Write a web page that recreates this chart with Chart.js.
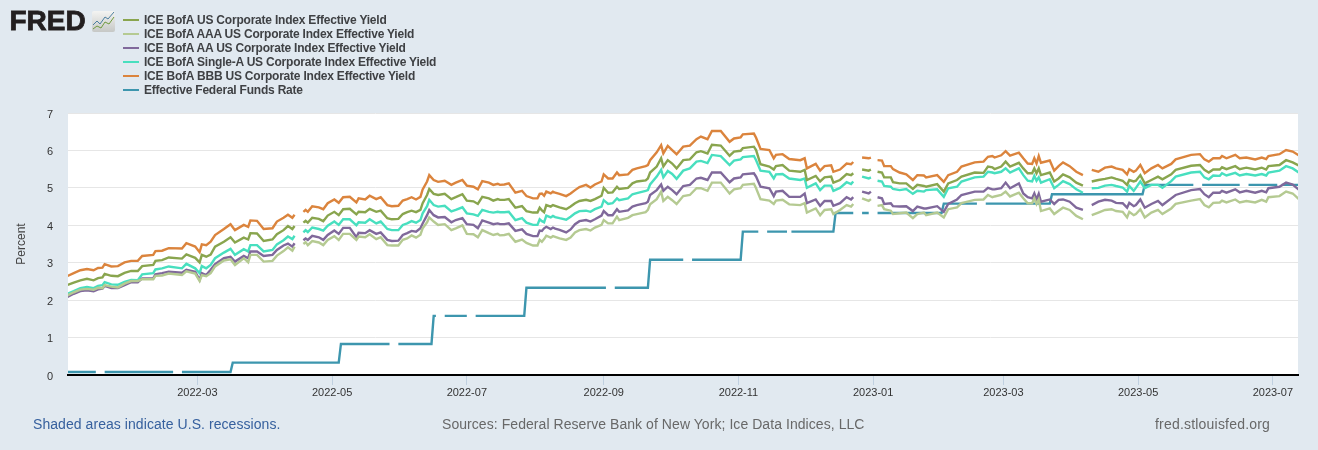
<!DOCTYPE html>
<html>
<head>
<meta charset="utf-8">
<title>FRED corporate yields</title>
<script src="https://cdn.jsdelivr.net/npm/chart.js@4/dist/chart.umd.js"></script>
<style>
html, body { margin: 0; padding: 0; background: #E1E9F0; }
body { width: 1318px; height: 450px; position: relative; overflow: hidden; font-family: "Liberation Sans", Arial, sans-serif; }
#graphique { position: absolute; left: 0; top: 0; }
#logo { position: absolute; left: 9.5px; top: 5px; font-size: 28px; line-height: 32px; font-weight: bold; color: #231F20; -webkit-text-stroke: 0.8px #231F20; }
#icone { position: absolute; left: 92px; top: 11px; }
#legende { position: absolute; left: 123px; top: 13px; }
.entree { position: absolute; left: 0; height: 14px; line-height: 14px; font-size: 12px; font-weight: bold; letter-spacing: -0.21px; color: #3F4144; padding-left: 21px; white-space: nowrap; }
.trait { position: absolute; left: 0; top: 6px; width: 16px; height: 2px; }
.pied { position: absolute; top: 416px; font-size: 14px; line-height: 17px; color: #686868; letter-spacing: 0.06px; white-space: nowrap; }
</style>
</head>
<body>
<canvas id="graphique" width="1318" height="450"></canvas>
<div id="logo">FRED</div>
<svg id="icone" width="23" height="21" viewBox="0 0 23 21">
    <defs>
        <linearGradient id="fond" x1="0" y1="0" x2="0" y2="1">
            <stop offset="0" stop-color="#F4F4F2"/>
            <stop offset="1" stop-color="#C6C8C6"/>
        </linearGradient>
    </defs>
    <rect width="23" height="21" rx="2" fill="url(#fond)"/>
    <polyline points="1,14 5,10 8,13 13,6 16,8 22,1" fill="none" stroke="#4C7FA0" stroke-width="1"/>
    <polyline points="1,18 5,15 9,17 13,11 17,13 22,6" fill="none" stroke="#6F9A3E" stroke-width="1"/>
</svg>
<div id="legende"></div>
<div class="pied" style="left:33px;color:#36609E">Shaded areas indicate U.S. recessions.</div>
<div class="pied" style="left:442px">Sources: Federal Reserve Bank of New York; Ice Data Indices, LLC</div>
<div class="pied" style="left:1155px;letter-spacing:0.2px">fred.stlouisfed.org</div>
<script>
// jours depuis le 2022-01-01
const days = [
    0,3,6,9,12,14,16,17,20,23,26,29,32,34,39,40,43,46,52,54,58,60,61,63,65,67,71,74,76,80,82,83,86,89,93,95,98,100,102,103,
    105,
    107,108,109,111,114,116,118,121,123,125,128,131,132,135,137,140,142,145,147,150,152,154,156,158,160,161,163,164,166,168,171,174,176,179,181,184,186,188,191,193,195,196,198,200,203,206,208,211,213,214,
    215,216,217,219,220,221,223,226,228,230,232,235,237,239,242,243,245,247,249,250,254,256,258,262,263,264,267,269,270,272,274,276,279,282,285,287,290,292,296,300,302,305,306,311,312,314,318,
    320,321,324,327,332,334,335,339,341,343,346,347,350,353,355,356,358,360,363,364,365,367,369,370,373,374,377,380,383,385,388,389,394,397,399,403,405,411,415,417,419,420,423,425,427,431,433,435,
    437,438,439,440,441,445,447,449,451,454,457,460,462,464,467,470,473,475,478,480,481,483,484,486,488,491,494,496,500,502,509,513,515,517,519,522,523,525,529,531,534,538,541,543,544,549,552,555,558
]

const corporate = [
    2.40,2.47,2.53,2.57,2.53,2.59,2.61,2.70,2.65,2.64,2.73,2.78,2.78,2.91,2.94,3.05,3.07,3.14,3.11,3.22,3.13,3.01,3.21,3.16,3.22,3.43,3.56,3.68,3.54,3.67,3.62,3.79,3.78,3.58,3.62,3.76,3.87,3.98,3.90,3.98,
    null,
    4.07,4.12,4.07,4.20,4.17,4.11,4.26,4.36,4.27,4.43,4.44,4.29,4.36,4.35,4.44,4.36,4.39,4.19,4.16,4.17,4.30,4.35,4.39,4.35,4.41,4.59,4.81,4.97,4.84,4.81,4.84,4.70,4.75,4.83,4.66,4.64,4.57,4.76,4.72,4.66,4.70,4.68,4.68,4.70,4.47,4.51,4.38,4.34,4.34,4.47,
    4.40,4.35,4.54,4.50,4.54,4.52,4.48,4.43,4.50,4.59,4.65,4.68,4.65,4.70,4.79,5.00,4.87,4.88,5.03,4.97,5.00,5.12,5.17,5.20,5.25,5.41,5.57,5.79,5.57,5.74,5.65,5.52,5.74,5.76,5.95,5.98,5.92,6.15,6.13,5.86,5.97,5.99,6.06,6.10,6.01,5.63,5.57,
    5.49,5.58,5.61,5.46,5.43,5.48,5.21,5.32,5.17,5.28,5.30,5.14,5.21,5.37,5.34,5.39,null,5.49,5.46,5.49,null,5.43,5.41,5.28,5.28,5.15,5.12,5.12,4.97,5.08,5.05,5.03,5.10,4.90,5.12,5.21,5.30,5.41,5.40,5.57,5.55,5.50,5.57,5.70,5.57,5.67,5.52,5.39,
    5.39,5.52,5.39,5.52,5.34,5.41,5.17,5.25,5.36,5.28,5.14,5.06,null,5.17,5.21,5.24,5.28,5.24,5.19,5.08,5.21,5.17,5.19,5.34,5.12,5.21,5.30,5.23,5.36,5.48,5.59,5.61,5.48,5.41,5.49,5.49,5.55,5.50,5.58,5.50,5.54,5.49,5.54,5.49,5.58,5.61,5.74,5.68,5.59
]

const aaa = [
    2.12,2.21,2.28,2.30,2.28,2.33,2.32,2.40,2.36,2.34,2.44,2.51,2.51,2.56,2.56,2.65,2.66,2.71,2.67,2.77,2.71,2.51,2.67,2.64,2.72,2.90,3.06,3.09,2.94,3.12,3.01,3.21,3.21,3.03,3.05,3.19,3.31,3.41,3.32,3.43,
    null,
    3.50,3.55,3.47,3.58,3.54,3.47,3.61,3.71,3.61,3.77,3.77,3.61,3.70,3.68,3.76,3.63,3.68,3.47,3.46,3.46,3.61,3.65,3.73,3.67,3.75,3.92,4.08,4.21,4.10,4.01,4.03,3.87,3.92,4.00,3.77,3.76,3.68,3.87,3.79,3.74,3.77,3.73,3.74,3.77,3.56,3.62,3.53,3.46,3.46,3.61,
    3.56,3.63,3.72,3.67,3.71,3.69,3.65,3.61,3.67,3.81,3.87,3.90,3.86,3.94,4.01,4.14,4.05,4.05,4.23,4.14,4.20,4.27,4.30,4.35,4.41,4.56,4.70,4.90,4.65,4.76,4.67,4.57,4.78,4.81,4.99,4.99,4.92,5.14,5.14,4.85,4.96,4.99,5.08,5.11,4.99,4.70,4.66,
    4.57,4.66,4.68,4.56,4.54,4.59,4.34,4.45,4.27,4.41,4.43,4.30,4.41,4.54,4.50,4.57,null,4.72,4.65,4.70,null,4.52,4.54,4.43,4.39,4.30,4.32,4.34,4.19,4.30,4.34,4.27,4.34,4.21,4.43,4.48,4.59,4.68,4.69,4.81,4.75,4.77,4.81,4.90,4.77,4.87,4.72,4.59,
    4.59,4.72,4.57,4.69,4.38,4.45,4.30,4.39,4.47,4.41,4.25,4.16,null,4.27,4.34,4.41,4.43,4.38,4.36,4.21,4.36,4.27,4.30,4.43,4.21,4.34,4.41,4.30,4.45,4.57,4.66,4.70,4.54,4.48,4.60,4.61,4.66,4.61,4.69,4.61,4.65,4.61,4.68,4.63,4.75,4.78,4.90,4.85,4.69
]

const aa = [
    2.08,2.17,2.24,2.26,2.24,2.29,2.31,2.38,2.32,2.32,2.40,2.48,2.48,2.58,2.58,2.69,2.72,2.76,2.73,2.81,2.76,2.54,2.72,2.67,2.81,2.96,3.12,3.16,3.03,3.18,3.12,3.30,3.30,3.18,3.21,3.34,3.46,3.51,3.43,3.52,
    null,
    3.60,3.65,3.61,3.72,3.68,3.61,3.74,3.86,3.77,3.93,3.93,3.68,3.80,3.79,3.87,3.77,3.81,3.61,3.58,3.59,3.74,3.79,3.85,3.83,3.92,4.05,4.27,4.41,4.27,4.21,4.22,4.08,4.14,4.19,4.03,4.01,3.92,4.13,4.07,4.03,4.05,4.03,4.03,4.05,3.85,3.89,3.77,3.71,3.71,3.86,
    3.85,3.92,3.96,3.90,3.94,3.91,3.88,3.81,3.89,4.03,4.11,4.14,4.10,4.16,4.26,4.38,4.27,4.27,4.43,4.36,4.40,4.50,4.54,4.59,4.63,4.81,4.94,5.09,4.92,5.03,4.94,4.83,5.05,5.08,5.25,5.27,5.21,5.41,5.41,5.15,5.25,5.28,5.36,5.39,5.30,5.03,4.99,
    4.78,4.90,4.92,4.76,4.76,4.85,4.59,4.69,4.52,4.65,4.65,4.52,4.59,4.75,4.69,4.75,null,4.90,4.85,4.90,null,4.75,4.72,4.57,4.59,4.51,4.50,4.51,4.38,4.50,4.45,4.45,4.51,4.36,4.57,4.69,4.81,4.90,4.90,5.00,4.96,4.96,4.99,5.14,4.99,5.12,4.85,4.75,
    4.72,4.85,4.69,4.84,4.63,4.69,4.57,4.68,4.69,4.63,4.47,4.41,null,4.54,4.63,4.68,4.66,4.60,4.59,4.47,4.60,4.51,4.54,4.69,4.47,4.57,4.65,4.54,4.72,4.81,4.94,4.97,4.83,4.75,4.87,4.87,4.92,4.87,4.96,4.88,4.92,4.87,4.92,4.88,4.99,5.03,5.14,5.09,4.94
]

const singleA = [
    2.17,2.24,2.32,2.35,2.32,2.38,2.40,2.48,2.42,2.41,2.49,2.54,2.53,2.69,2.72,2.82,2.85,2.90,2.85,2.97,2.85,2.72,2.91,2.85,2.94,3.12,3.27,3.37,3.21,3.36,3.30,3.47,3.47,3.30,3.34,3.49,3.60,3.70,3.63,3.72,
    null,
    3.81,3.87,3.82,3.94,3.90,3.86,3.99,4.10,4.01,4.16,4.16,4.00,4.08,4.07,4.16,4.05,4.10,3.90,3.87,3.87,4.01,4.05,4.11,4.07,4.14,4.32,4.51,4.68,4.54,4.50,4.52,4.37,4.41,4.48,4.32,4.29,4.25,4.41,4.36,4.34,4.36,4.35,4.35,4.36,4.14,4.19,4.07,4.01,4.01,4.16,
    4.11,4.08,4.26,4.21,4.25,4.22,4.19,4.15,4.23,4.32,4.38,4.39,4.36,4.43,4.50,4.67,4.57,4.59,4.72,4.67,4.72,4.83,4.86,4.92,4.94,5.09,5.30,5.48,5.28,5.45,5.37,5.24,5.46,5.52,5.70,5.72,5.66,5.88,5.85,5.61,5.73,5.76,5.82,5.85,5.74,5.46,5.43,
    5.25,5.36,5.37,5.25,5.21,5.25,5.00,5.12,4.94,5.06,5.06,4.92,5.00,5.15,5.10,5.17,null,5.30,5.25,5.28,null,5.19,5.17,5.05,5.03,4.97,4.94,4.97,4.84,4.92,4.90,4.94,4.96,4.76,4.99,5.03,5.17,5.28,5.30,5.43,5.41,5.39,5.43,5.52,5.41,5.52,5.34,5.19,
    5.17,5.32,5.19,5.28,5.14,5.23,4.99,5.08,5.18,5.10,4.96,4.87,null,4.99,5.00,5.06,5.08,5.05,5.01,4.90,5.05,4.92,5.00,5.17,4.99,5.08,5.08,5.00,5.18,5.30,5.41,5.43,5.28,5.23,5.33,5.32,5.39,5.33,5.40,5.33,5.37,5.33,5.37,5.33,5.41,5.46,5.58,5.52,5.40
]

const bbb = [
    2.64,2.72,2.80,2.83,2.80,2.86,2.87,2.96,2.90,2.91,3.01,3.05,3.05,3.18,3.21,3.31,3.32,3.39,3.38,3.52,3.43,3.28,3.49,3.47,3.56,3.74,3.90,4.03,3.87,4.01,3.96,4.13,4.12,3.90,3.92,4.10,4.20,4.28,4.20,4.28,
    null,
    4.36,4.41,4.36,4.51,4.48,4.43,4.59,4.69,4.60,4.75,4.76,4.61,4.72,4.69,4.79,4.70,4.75,4.54,4.51,4.52,4.66,4.70,4.75,4.69,4.76,4.96,5.17,5.34,5.21,5.16,5.19,5.08,5.14,5.21,5.06,5.03,4.96,5.18,5.14,5.08,5.11,5.08,5.09,5.12,4.87,4.92,4.78,4.72,4.72,4.84,
    4.85,4.79,4.90,4.85,4.90,4.87,4.84,4.78,4.85,4.94,5.02,5.08,5.01,5.09,5.17,5.36,5.25,5.25,5.41,5.34,5.36,5.48,5.52,5.58,5.61,5.74,5.95,6.14,5.92,6.12,6.01,5.90,6.10,6.13,6.30,6.37,6.30,6.52,6.52,6.23,6.32,6.35,6.43,6.45,6.34,6.04,6.01,
    5.79,5.88,5.90,5.77,5.74,5.79,5.52,5.64,5.46,5.58,5.60,5.43,5.49,5.65,5.63,5.69,null,5.81,5.79,5.81,null,5.74,5.73,5.58,5.58,5.50,5.41,5.36,5.21,5.34,5.33,5.28,5.34,5.16,5.34,5.43,5.57,5.68,5.70,5.83,5.85,5.81,5.87,5.98,5.86,5.94,5.79,5.65,
    5.64,5.79,5.65,5.85,5.67,5.73,5.46,5.58,5.68,5.58,5.43,5.34,null,5.48,5.43,5.54,5.57,5.52,5.48,5.36,5.50,5.43,5.46,5.61,5.39,5.52,5.61,5.52,5.64,5.76,5.88,5.90,5.76,5.70,5.79,5.79,5.85,5.79,5.88,5.79,5.81,5.76,5.81,5.77,5.85,5.90,6.01,5.97,5.86
]

// le taux des fed funds a ses propres dates (jours fériés = trous)
const ffrDays = [
    0,13,15,17,48,50,52,74,75,123,124,146,148,150,165,166,167,169,171,181,183,185,207,208,244,246,248,263,264,279,281,283,305,306,
    313,315,317,326,327,328,347,348,356,358,360,363,365,367,396,397,412,414,416,445,446,487,488,510,512,514,531,533,535,548,549,550,558
]
const ffrValues = [
    0.08,0.08,null,0.08,0.08,null,0.08,0.08,0.33,0.33,0.83,0.83,null,0.83,0.83,1.58,1.58,null,1.58,1.58,null,1.58,1.58,2.33,2.33,null,2.33,2.33,3.08,3.08,null,3.08,3.08,3.83,
    3.83,null,3.83,3.83,null,3.83,3.83,4.33,4.33,null,4.33,4.33,null,4.33,4.33,4.58,4.58,null,4.58,4.58,4.83,4.83,5.08,5.08,null,5.08,5.08,null,5.08,5.08,null,5.08,5.08
]

const seriesNames = [
    "ICE BofA US Corporate Index Effective Yield",
    "ICE BofA AAA US Corporate Index Effective Yield",
    "ICE BofA AA US Corporate Index Effective Yield",
    "ICE BofA Single-A US Corporate Index Effective Yield",
    "ICE BofA BBB US Corporate Index Effective Yield",
    "Effective Federal Funds Rate"
]
const seriesColors = ["#89A54E", "#B5CA92", "#80699B", "#48DFBF", "#DB843D", "#3D96AE"]
const tickDays = [59, 120, 181, 243, 304, 365, 424, 485, 546]
const tickLabels = ["2022-03", "2022-05", "2022-07", "2022-09", "2022-11", "2023-01", "2023-03", "2023-05", "2023-07"]

function points(xs, ys) {
    return xs.map((x, i) => ({ x: x, y: ys[i] }))
}

const legende = document.querySelector("#legende")
seriesNames.forEach((name, i) => {
    const entree = document.createElement("div")
    entree.className = "entree"
    entree.style.top = Math.round(i * 13.9) + "px"
    entree.textContent = name
    const trait = document.createElement("span")
    trait.className = "trait"
    trait.style.background = seriesColors[i]
    entree.appendChild(trait)
    legende.appendChild(entree)
})

// fond blanc de la zone de tracé
const fondBlanc = {
    id: "fondBlanc",
    beforeDraw(chart) {
        const a = chart.chartArea
        chart.ctx.fillStyle = "#ffffff"
        chart.ctx.fillRect(a.left, a.top, a.right - a.left, a.bottom - a.top)
    }
}

const allValues = [corporate, aaa, aa, singleA, bbb]
const datasets = allValues.map((values, i) => ({
    label: seriesNames[i],
    data: points(days, values),
    borderColor: seriesColors[i],
    borderWidth: 2.4,
    pointRadius: 0,
    tension: 0,
    spanGaps: false
}))
datasets.push({
    label: seriesNames[5],
    data: points(ffrDays, ffrValues),
    borderColor: seriesColors[5],
    borderWidth: 2.4,
    pointRadius: 0,
    tension: 0,
    spanGaps: false
})

new Chart(document.querySelector("#graphique"), {
    type: "line",
    data: { datasets: datasets },
    plugins: [fondBlanc],
    options: {
        responsive: false,
        animation: false,
        devicePixelRatio: 1,
        parsing: false,
        normalized: true,
        layout: { padding: { top: 113, left: 0, right: 20, bottom: 0 } },
        plugins: { legend: { display: false }, tooltip: { enabled: false } },
        scales: {
            x: {
                type: "linear",
                min: 0.4,
                max: 557.4,
                afterFit(scale) { scale.height = 75 },
                afterBuildTicks(scale) { scale.ticks = tickDays.map(v => ({ value: v })) },
                grid: { drawOnChartArea: false, color: "#C0D0E0", tickLength: 10 },
                border: { display: true, color: "#000000", width: 2 },
                ticks: {
                    autoSkip: false,
                    maxRotation: 0,
                    padding: 1,
                    color: "#333333",
                    font: { family: "'Liberation Sans'", size: 11 },
                    callback: value => tickLabels[tickDays.indexOf(value)]
                }
            },
            y: {
                min: 0,
                max: 7,
                afterFit(scale) { scale.width = 68 },
                grid: { color: "#E6E6E6", drawTicks: false },
                border: { display: false },
                ticks: {
                    stepSize: 1,
                    padding: 15,
                    labelOffset: 1.5,
                    color: "#333333",
                    font: { family: "'Liberation Sans'", size: 11 }
                },
                title: {
                    display: true,
                    text: "Percent",
                    color: "#444444",
                    padding: { top: 14, bottom: 0 },
                    font: { family: "'Liberation Sans'", size: 12 }
                }
            }
        }
    }
})
</script>
</body>
</html>
